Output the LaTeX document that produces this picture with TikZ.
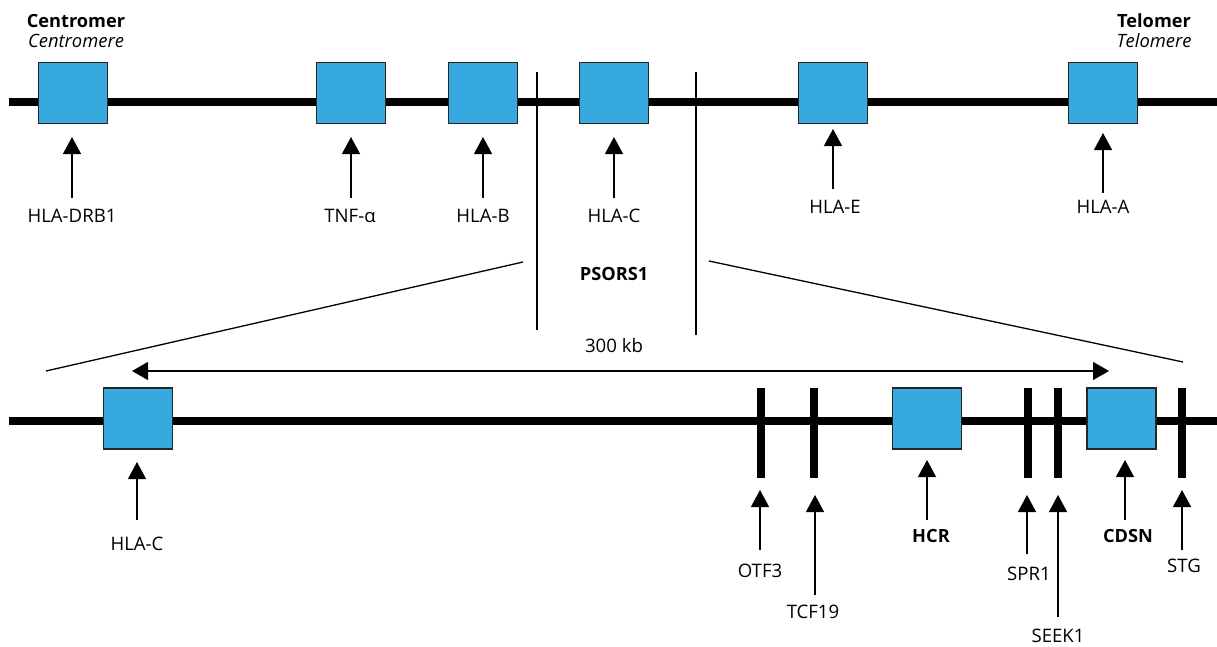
\documentclass[tikz,border=0pt]{standalone}
\usepackage{fontspec}
\setmainfont{Open Sans}
\usetikzlibrary{arrows.meta}
\definecolor{genblue}{HTML}{36A9E1}
\begin{document}
\begin{tikzpicture}[x=1pt,y=-1pt,
 gene/.style={draw=black!85,line width=1.3pt,fill=genblue,minimum width=69pt,minimum height=61pt,inner sep=0pt},
 chrom/.style={line width=8.5pt},
 bar/.style={fill=black,minimum width=8pt,minimum height=90pt,inner sep=0pt},
 ptr/.style={line width=1.3pt,-{Triangle[width=18pt,length=17pt]}},
 ptr2/.style={line width=1.3pt,{Triangle[width=18pt,length=16pt]}-{Triangle[width=18pt,length=16pt]}},
 thinline/.style={line width=1.3pt},
 lbl/.style={anchor=base,inner sep=0pt,font=\fontsize{18.6}{21}\selectfont},
 blbl/.style={anchor=base,inner sep=0pt,font=\fontsize{18.2}{21}\selectfont\bfseries},
 ilbl/.style={anchor=base,inner sep=0pt,font=\fontsize{18.4}{21}\selectfont\itshape},
]
\useasboundingbox (0,0) rectangle (1217,646);

% ---------- top chromosome ----------
\coordinate (tL) at (9,102);
\coordinate (tR) at (1217,102);
\draw[chrom] (tL) -- (tR);

\node[blbl] (cen) at (76,27) {Centromer};
\node[ilbl] (cenE) at (76,47) {Centromere};
\node[blbl] (tel) at (1154,27) {Telomer};
\node[ilbl] (telE) at (1154,47) {Telomere};

\node[gene] (gDRB1) at (73,93) {};
\node[gene] (gTNF) at (351,93) {};
\node[gene] (gB) at (483,93) {};
\node[gene] (gC) at (614,93) {};
\node[gene] (gE) at (833,93) {};
\node[gene] (gA) at (1103,93) {};

% arrows top
\coordinate (sDRB1) at (72,198); \coordinate (tDRB1) at (72,137);
\coordinate (sTNF) at (351,198); \coordinate (tTNF) at (351,137);
\coordinate (sB) at (483,198); \coordinate (tB) at (483,137);
\coordinate (sC) at (614,198); \coordinate (tC) at (614,137);
\coordinate (sE) at (833,189); \coordinate (tE) at (833,129);
\coordinate (sA) at (1103,193); \coordinate (tA) at (1103,133);
\foreach \n in {DRB1,TNF,B,C,E,A} {\draw[ptr] (s\n) -- (t\n);}

\node[lbl] (lDRB1) at (72,222.5) {HLA-DRB1};
\node[lbl] (lTNF) at (350,222.5) {TNF-α};
\node[lbl] (lB) at (483,222.5) {HLA-B};
\node[lbl] (lC) at (614,222.5) {HLA-C};
\node[lbl] (lE) at (835,213) {HLA-E};
\node[lbl] (lA) at (1103,213) {HLA-A};

% PSORS1 region
\coordinate (v1a) at (537,72); \coordinate (v1b) at (537,330);
\coordinate (v2a) at (696,72); \coordinate (v2b) at (696,335);
\draw[thinline] (v1a) -- (v1b);
\draw[thinline] (v2a) -- (v2b);
\node[blbl] (psors) at (614,280) {PSORS1};
\node[lbl] (kb) at (614,352) {300 kb};

\coordinate (d1a) at (523,262); \coordinate (d1b) at (46,371);
\coordinate (d2a) at (709,261); \coordinate (d2b) at (1183,362);
\draw[thinline] (d1a) -- (d1b);
\draw[thinline] (d2a) -- (d2b);

\coordinate (hL) at (132,371); \coordinate (hR) at (1109,371);
\draw[ptr2] (hL) -- (hR);

% ---------- bottom chromosome ----------
\coordinate (bL) at (9,421);
\coordinate (bR) at (1217,421);
\draw[chrom] (bL) -- (bR);

\node[gene] (hC) at (138,418.5) {};
\node[gene] (hHCR) at (927,418.5) {};
\node[gene] (hCDSN) at (1121.5,418.5) {};

\node[bar] (bOTF) at (761,433) {};
\node[bar] (bTCF) at (814,433) {};
\node[bar] (bSPR) at (1028,433) {};
\node[bar] (bSEEK) at (1058,433) {};
\node[bar] (bSTG) at (1182,433) {};

\coordinate (s2C) at (137,520); \coordinate (t2C) at (137,462);
\coordinate (s2OTF) at (760,550); \coordinate (t2OTF) at (760,490);
\coordinate (s2TCF) at (815,595); \coordinate (t2TCF) at (815,495);
\coordinate (s2HCR) at (927,520); \coordinate (t2HCR) at (927,460);
\coordinate (s2SPR) at (1027,554); \coordinate (t2SPR) at (1027,495);
\coordinate (s2SEEK) at (1058,617); \coordinate (t2SEEK) at (1058,495);
\coordinate (s2CDSN) at (1125,520); \coordinate (t2CDSN) at (1125,460);
\coordinate (s2STG) at (1182,550); \coordinate (t2STG) at (1182,490);
\foreach \n in {C,OTF,TCF,HCR,SPR,SEEK,CDSN,STG} {\draw[ptr] (s2\n) -- (t2\n);}

\node[lbl] (l2C) at (137,550) {HLA-C};
\node[lbl] (l2OTF) at (760,577) {OTF3};
\node[lbl] (l2TCF) at (813,618) {TCF19};
\node[blbl] (l2HCR) at (931,542) {HCR};
\node[lbl] (l2SPR) at (1029,580) {SPR1};
\node[lbl] (l2SEEK) at (1058,642) {SEEK1};
\node[blbl] (l2CDSN) at (1128,542) {CDSN};
\node[lbl] (l2STG) at (1184,572) {STG};
\end{tikzpicture}
\end{document}
